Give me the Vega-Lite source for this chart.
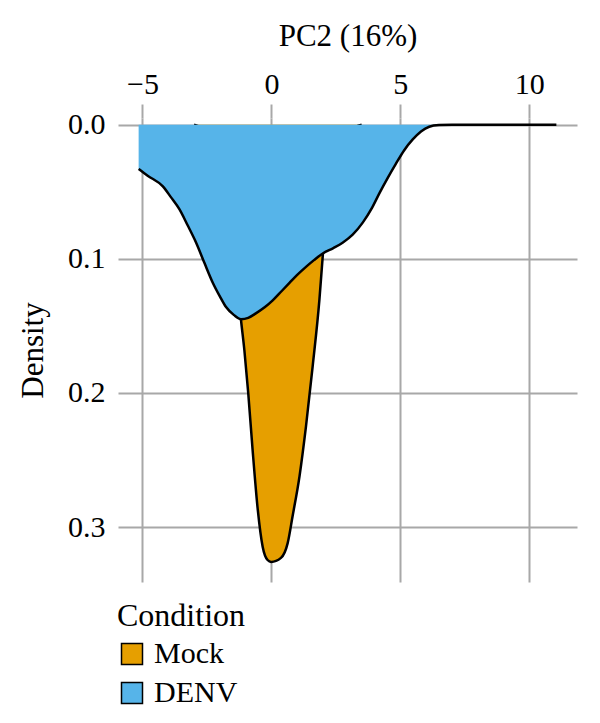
{
  "$schema": "https://vega.github.io/schema/vega-lite/v6.json",
  "width": 459,
  "height": 464,
  "autosize": {"type": "none"},
  "padding": {"left": 118, "top": 118, "right": 23, "bottom": 141},
  "background": "white",
  "config": {
    "view": {"stroke": null},
    "font": "Liberation Serif, Times New Roman, serif",
    "axis": {
      "labelFont": "Liberation Serif, Times New Roman, serif",
      "titleFont": "Liberation Serif, Times New Roman, serif",
      "labelFontSize": 30,
      "titleFontSize": 31,
      "titleFontWeight": "normal",
      "labelColor": "black",
      "titleColor": "black",
      "gridColor": "#A8A8A8",
      "gridWidth": 2,
      "gridOpacity": 1,
      "domain": false
    },
    "legend": {
      "labelFont": "Liberation Serif, Times New Roman, serif",
      "titleFont": "Liberation Serif, Times New Roman, serif"
    }
  },
  "data": {
    "values": [
      {"Condition": "Mock", "x": -3.0, "density": 0.0},
      {"Condition": "Mock", "x": -2.5, "density": 0.006},
      {"Condition": "Mock", "x": -2.0, "density": 0.025},
      {"Condition": "Mock", "x": -1.6, "density": 0.07},
      {"Condition": "Mock", "x": -1.35, "density": 0.11},
      {"Condition": "Mock", "x": -1.18, "density": 0.1455},
      {"Condition": "Mock", "x": -1.05, "density": 0.168},
      {"Condition": "Mock", "x": -0.9, "density": 0.2},
      {"Condition": "Mock", "x": -0.73, "density": 0.2425},
      {"Condition": "Mock", "x": -0.53, "density": 0.287},
      {"Condition": "Mock", "x": -0.34, "density": 0.3147},
      {"Condition": "Mock", "x": -0.15, "density": 0.3246},
      {"Condition": "Mock", "x": -0.01, "density": 0.326},
      {"Condition": "Mock", "x": 0.37, "density": 0.323},
      {"Condition": "Mock", "x": 0.63, "density": 0.312},
      {"Condition": "Mock", "x": 0.82, "density": 0.292},
      {"Condition": "Mock", "x": 1.09, "density": 0.262},
      {"Condition": "Mock", "x": 1.34, "density": 0.225},
      {"Condition": "Mock", "x": 1.6, "density": 0.18},
      {"Condition": "Mock", "x": 1.86, "density": 0.1306},
      {"Condition": "Mock", "x": 1.99, "density": 0.098},
      {"Condition": "Mock", "x": 2.2, "density": 0.05},
      {"Condition": "Mock", "x": 2.5, "density": 0.02},
      {"Condition": "Mock", "x": 3.0, "density": 0.005},
      {"Condition": "Mock", "x": 3.5, "density": 0.0},
      {"Condition": "DENV", "x": -5.15, "density": 0.033},
      {"Condition": "DENV", "x": -4.8, "density": 0.038},
      {"Condition": "DENV", "x": -4.21, "density": 0.046},
      {"Condition": "DENV", "x": -3.9, "density": 0.054},
      {"Condition": "DENV", "x": -3.57, "density": 0.063},
      {"Condition": "DENV", "x": -3.25, "density": 0.075},
      {"Condition": "DENV", "x": -2.92, "density": 0.088},
      {"Condition": "DENV", "x": -2.6, "density": 0.103},
      {"Condition": "DENV", "x": -2.27, "density": 0.118},
      {"Condition": "DENV", "x": -2.0, "density": 0.128},
      {"Condition": "DENV", "x": -1.76, "density": 0.136},
      {"Condition": "DENV", "x": -1.45, "density": 0.142},
      {"Condition": "DENV", "x": -1.18, "density": 0.145},
      {"Condition": "DENV", "x": -0.9, "density": 0.144},
      {"Condition": "DENV", "x": -0.59, "density": 0.1405},
      {"Condition": "DENV", "x": -0.25, "density": 0.136},
      {"Condition": "DENV", "x": 0.05, "density": 0.131},
      {"Condition": "DENV", "x": 0.4, "density": 0.124},
      {"Condition": "DENV", "x": 0.7, "density": 0.118},
      {"Condition": "DENV", "x": 1.0, "density": 0.112},
      {"Condition": "DENV", "x": 1.34, "density": 0.106},
      {"Condition": "DENV", "x": 1.65, "density": 0.101},
      {"Condition": "DENV", "x": 1.99, "density": 0.096},
      {"Condition": "DENV", "x": 2.4, "density": 0.092},
      {"Condition": "DENV", "x": 2.76, "density": 0.088},
      {"Condition": "DENV", "x": 3.15, "density": 0.082},
      {"Condition": "DENV", "x": 3.54, "density": 0.073},
      {"Condition": "DENV", "x": 3.9, "density": 0.062},
      {"Condition": "DENV", "x": 4.19, "density": 0.051},
      {"Condition": "DENV", "x": 4.5, "density": 0.04},
      {"Condition": "DENV", "x": 4.83, "density": 0.029},
      {"Condition": "DENV", "x": 5.15, "density": 0.019},
      {"Condition": "DENV", "x": 5.48, "density": 0.011},
      {"Condition": "DENV", "x": 5.8, "density": 0.005},
      {"Condition": "DENV", "x": 6.12, "density": 0.0015},
      {"Condition": "DENV", "x": 6.5, "density": 0.0003},
      {"Condition": "DENV", "x": 7.0, "density": 0.0},
      {"Condition": "DENV", "x": 8.0, "density": 0.0},
      {"Condition": "DENV", "x": 9.0, "density": 0.0},
      {"Condition": "DENV", "x": 10.0, "density": 0.0},
      {"Condition": "DENV", "x": 11.05, "density": 0.0}
    ]
  },
  "encoding": {
    "x": {
      "field": "x",
      "type": "quantitative",
      "scale": {"domain": [-5.95, 11.85], "nice": false, "zero": false},
      "axis": {
        "orient": "top",
        "title": "PC2 (16%)",
        "values": [-5, 0, 5, 10],
        "ticks": true,
        "tickColor": "#A8A8A8",
        "tickWidth": 2,
        "tickSize": 14,
        "labelPadding": 5,
        "titlePadding": 17
      }
    },
    "y": {
      "field": "density",
      "type": "quantitative",
      "scale": {"domain": [-0.005, 0.341], "nice": false, "zero": false, "reverse": true},
      "axis": {
        "title": "Density",
        "values": [0, 0.1, 0.2, 0.3],
        "format": ".1f",
        "ticks": false,
        "labelPadding": 13,
        "titlePadding": 18
      }
    }
  },
  "layer": [
    {
      "transform": [{"filter": "datum.Condition === 'Mock'"}],
      "mark": {"type": "area", "interpolate": "monotone", "opacity": 1},
      "encoding": {
        "y2": {"datum": 0},
        "color": {
          "field": "Condition",
          "type": "nominal",
          "scale": {"domain": ["Mock", "DENV"], "range": ["#E69F00", "#56B4E9"]},
          "legend": {
            "orient": "none",
            "legendX": -1,
            "legendY": 483,
            "title": "Condition",
            "titleFontSize": 32,
            "titleFontWeight": "normal",
            "titleColor": "black",
            "titlePadding": 6,
            "labelFontSize": 30,
            "labelColor": "black",
            "labelOffset": 7,
            "symbolType": "square",
            "symbolSize": 441,
            "symbolOpacity": 1,
            "rowPadding": 9,
            "encode": {
              "symbols": {
                "update": {
                  "stroke": {"value": "black"},
                  "strokeWidth": {"value": 1.5}
                }
              }
            }
          }
        }
      }
    },
    {
      "transform": [{"filter": "datum.Condition === 'Mock'"}],
      "mark": {"type": "line", "interpolate": "monotone", "color": "black", "strokeWidth": 2.5},
      "encoding": {}
    },
    {
      "transform": [{"filter": "datum.Condition === 'DENV'"}],
      "mark": {"type": "area", "interpolate": "monotone", "opacity": 1},
      "encoding": {
        "y2": {"datum": 0},
        "color": {"field": "Condition", "type": "nominal"}
      }
    },
    {
      "transform": [{"filter": "datum.Condition === 'DENV'"}],
      "mark": {"type": "line", "interpolate": "monotone", "color": "black", "strokeWidth": 2.5},
      "encoding": {}
    }
  ]
}
